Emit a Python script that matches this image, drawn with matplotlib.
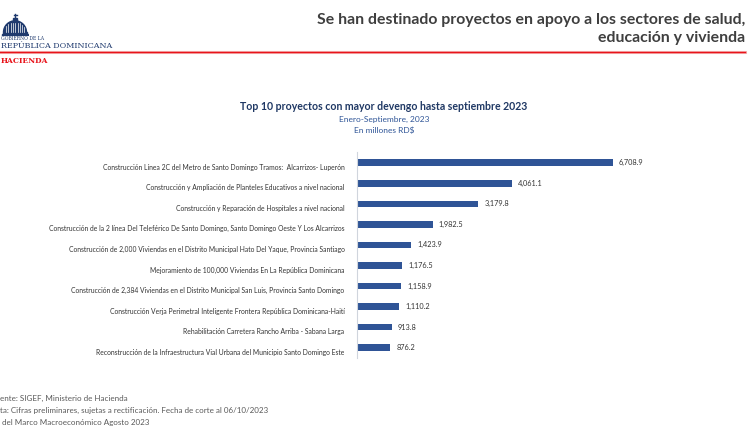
import matplotlib.pyplot as plt
import matplotlib.patches as mpatches
import matplotlib.transforms as mtransforms
import numpy as np

# ==========================
# Données
# ==========================

proyectos = [
    "Construcción Línea 2C del Metro de Santo Domingo Tramos:  Alcarrizos- Luperón",
    "Construcción y Ampliación de Planteles Educativos a nivel nacional",
    "Construcción y Reparación de Hospitales a nivel nacional",
    "Construcción de la 2 línea Del Teleférico De Santo Domingo, Santo Domingo Oeste Y Los Alcarrizos",
    "Construcción de 2,000 Viviendas en el Distrito Municipal Hato Del Yaque, Provincia Santiago",
    "Mejoramiento de 100,000 Viviendas En La República Dominicana",
    "Construcción de 2,384 Viviendas en el Distrito Municipal San Luis, Provincia Santo Domingo",
    "Construcción Verja Perimetral Inteligente Frontera República Dominicana-Haití",
    "Rehabilitación Carretera Rancho Arriba - Sabana Larga",
    "Reconstrucción de la Infraestructura Vial Urbana del Municipio Santo Domingo Este",
]
devengo = [6708.9, 4061.1, 3179.8, 1982.5, 1423.9, 1176.5, 1158.9, 1110.2, 913.8, 876.2]

titulo = "Se han destinado proyectos en apoyo a los sectores de salud,\neducación y vivienda"
titulo_grafico = "Top 10 proyectos con mayor devengo hasta septiembre 2023"
subtitulo = "Enero-Septiembre, 2023\nEn millones RD$"
notas = [
    "ente: SIGEF, Ministerio de Hacienda",
    "ta: Cifras preliminares, sujetas a rectificación. Fecha de corte al 06/10/2023",
    " del Marco Macroeconómico Agosto 2023",
]

plt.rcParams["font.family"] = ["Lato", "DejaVu Sans"]

W, H = 750, 430
fig = plt.figure(figsize=(7.5, 4.3), dpi=100)


def px(x, y):
    return x / W, 1 - y / H


# ==========================
# En-tête
# ==========================

fig.text(*px(745, 29), titulo, ha="right", va="center", fontsize=11.4,
         fontweight="bold", color="#3F3F3F", linespacing=1.3)

fig.add_artist(plt.Line2D([0, 745 / W], [1 - 52 / H] * 2, color="#F4B6B6", lw=2.2))
fig.add_artist(plt.Line2D([0, 745 / W], [1 - 52 / H] * 2, color="#E8141B", lw=1.0))

fig.text(*px(1, 39), "GOBIERNO DE LA", ha="left", va="center", fontsize=3.3,
         color="#1F3A6E", family=["DejaVu Serif"])
fig.text(*px(1, 45.5), "REPÚBLICA DOMINICANA", ha="left", va="center", fontsize=5.8,
         color="#1F3A6E", family=["DejaVu Serif"])
fig.text(*px(1, 61), "HACIENDA", ha="left", va="center", fontsize=5.4,
         color="#E8141B", fontweight="bold", family=["DejaVu Serif"])

# Logo (dôme)
logo = fig.add_axes([1 / W, 1 - 36 / H, 28 / W, 23 / H])
logo.set_xlim(0, 28)
logo.set_ylim(0, 23)
logo.axis("off")
navy = "#1F3A6E"
logo.add_patch(mpatches.Rectangle((1, 0), 26, 2.5, color=navy))
logo.add_patch(mpatches.Rectangle((2, 2.5), 24, 1.2, color=navy))
logo.add_patch(mpatches.Wedge((14, 3.7), 11.5, 0, 180, color=navy))
for xs in np.arange(5, 24, 2.3):
    logo.plot([xs, xs], [4.2, 4.2 + 0.8 * np.sqrt(max(0, 132 - (xs - 14) ** 2))],
              color="white", lw=0.5)
logo.add_patch(mpatches.Rectangle((12, 14.8), 4, 3, color=navy))
logo.plot([14, 14], [17.8, 22.5], color=navy, lw=1.0)
logo.plot([12.5, 15.5], [21, 21], color=navy, lw=1.0)

# ==========================
# Titre du graphique
# ==========================

fig.text(*px(384, 107), titulo_grafico, ha="center", va="center", fontsize=7.6,
         fontweight="bold", color="#1F3864")
fig.text(*px(384, 125), subtitulo, ha="center", va="center", fontsize=6,
         color="#2F5597", linespacing=1.6)

# ==========================
# Barres
# ==========================

ax = fig.add_axes([357 / W, 1 - 358 / H, 343.4 / W, 205.6 / H])
y = np.arange(len(proyectos))
bars = ax.barh(y, devengo, height=0.32, color="#2F5496")
ax.set_xlim(0, 9000)
ax.set_ylim(len(proyectos) - 0.5, -0.5)
ax.set_yticks(y)
ax.set_yticklabels(proyectos, fontsize=4.85, color="#333333")
ax.tick_params(axis="y", length=0, pad=9)
ax.set_xticks([])
for s in ["top", "right", "bottom"]:
    ax.spines[s].set_visible(False)
ax.spines["left"].set_color("#D0D5DD")
ax.spines["left"].set_linewidth(0.8)

# étiquettes un peu plus basses que les barres, comme dans l'original
decalage = mtransforms.ScaledTranslation(0, -4 / 100, fig.dpi_scale_trans)
for lab in ax.get_yticklabels():
    lab.set_transform(lab.get_transform() + decalage)

for b, v in zip(bars, devengo):
    ax.text(b.get_width() + 160, b.get_y() + b.get_height() / 2, f"{v:,.1f}",
            va="center", ha="left", fontsize=5.3, color="#333333")

# ==========================
# Notes
# ==========================

for i, n in enumerate(notas):
    fig.text(*px(0, 398 + 12 * i), n, ha="left", va="center", fontsize=5.8,
             color="#595959")

fig.savefig("out.png", dpi=100)
